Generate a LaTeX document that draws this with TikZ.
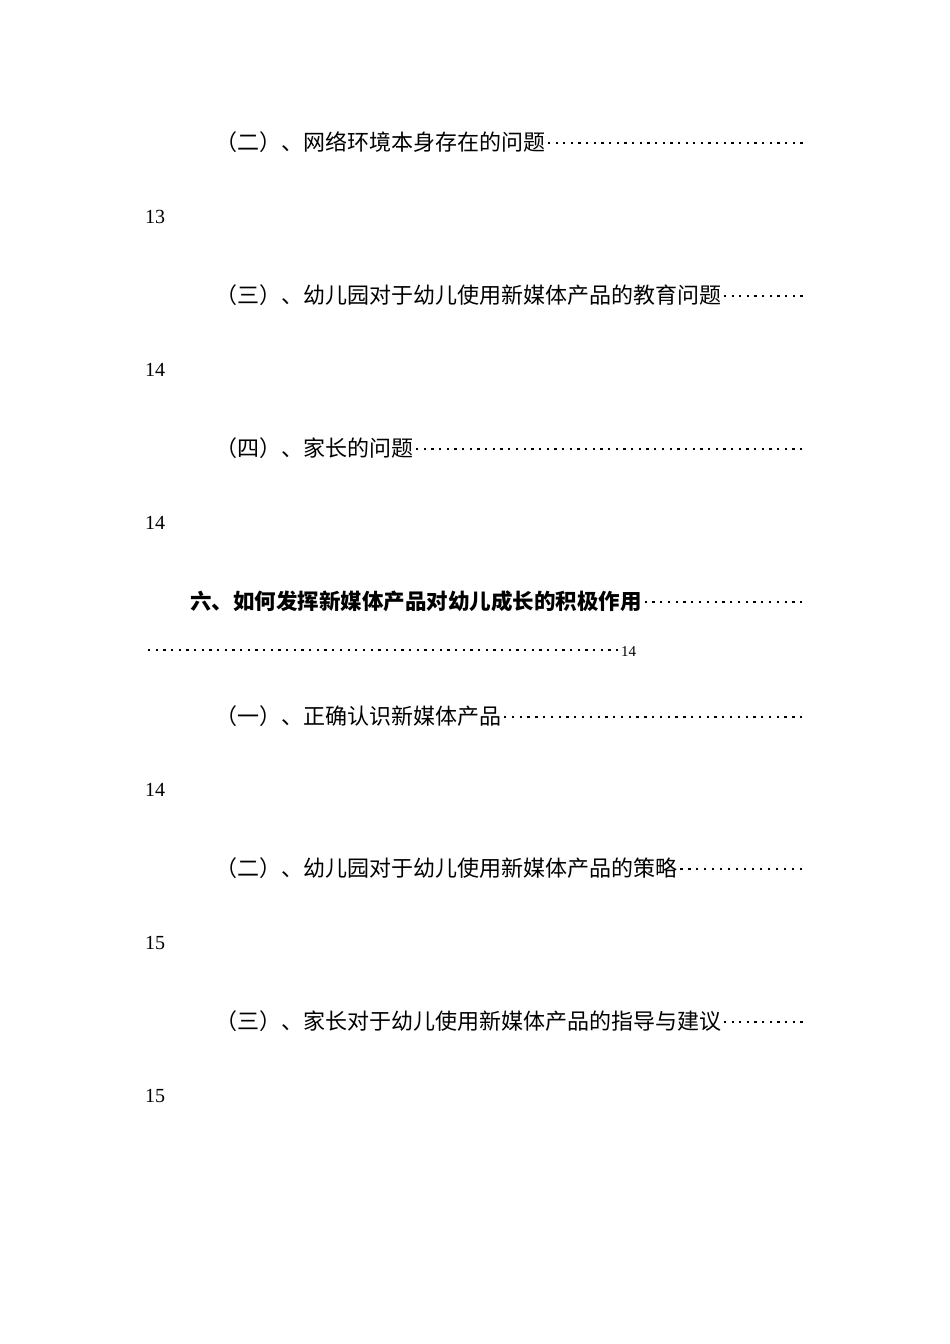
\documentclass[tikz,border=0pt]{standalone}
\usepackage{fontspec}
\setmainfont{Liberation Serif}
\newfontfamily\cjk{Noto Sans CJK SC}
\newcommand{\dl}{\xleaders\hbox to 7.6pt{\hss\raisebox{6pt}{\rule{2.3pt}{2.3pt}}\hss}\hfill}
\tikzset{entry/.style={anchor=west,inner sep=0pt,font=\fontsize{22pt}{22pt}\selectfont\cjk},
 num/.style={anchor=west,inner sep=0pt,font=\fontsize{20pt}{20pt}\selectfont}}
\begin{document}
\begin{tikzpicture}[x=1pt,y=-1pt]
\useasboundingbox (0,0) rectangle (950,1344);
\fill[white] (0,0) rectangle (950,1344);
\node[entry] (a) at (215,142) {\makebox[590pt][l]{（二）、网络环境本身存在的问题\dl}};
\node[num] (an) at (145,217) {13};
\node[entry] (b) at (215,295) {\makebox[590pt][l]{（三）、幼儿园对于幼儿使用新媒体产品的教育问题\dl}};
\node[num] (bn) at (145,370) {14};
\node[entry] (c) at (215,448) {\makebox[590pt][l]{（四）、家长的问题\dl}};
\node[num] (cn) at (145,523) {14};
\node[entry,font=\fontsize{21.5pt}{21.5pt}\selectfont\cjk\bfseries] (d) at (190,601) {\makebox[615pt][l]{六、如何发挥新媒体产品对幼儿成长的积极作用\dl}};
\node[num] (dn) at (145,652) {\makebox[476pt][l]{\dl}{\fontsize{15pt}{15pt}\selectfont 14}};
\node[entry] (e) at (215,716) {\makebox[590pt][l]{（一）、正确认识新媒体产品\dl}};
\node[num] (en) at (145,790) {14};
\node[entry] (f) at (215,868) {\makebox[590pt][l]{（二）、幼儿园对于幼儿使用新媒体产品的策略\dl}};
\node[num] (fn) at (145,943) {15};
\node[entry] (g) at (215,1021) {\makebox[590pt][l]{（三）、家长对于幼儿使用新媒体产品的指导与建议\dl}};
\node[num] (gn) at (145,1096) {15};
\end{tikzpicture}
\end{document}
